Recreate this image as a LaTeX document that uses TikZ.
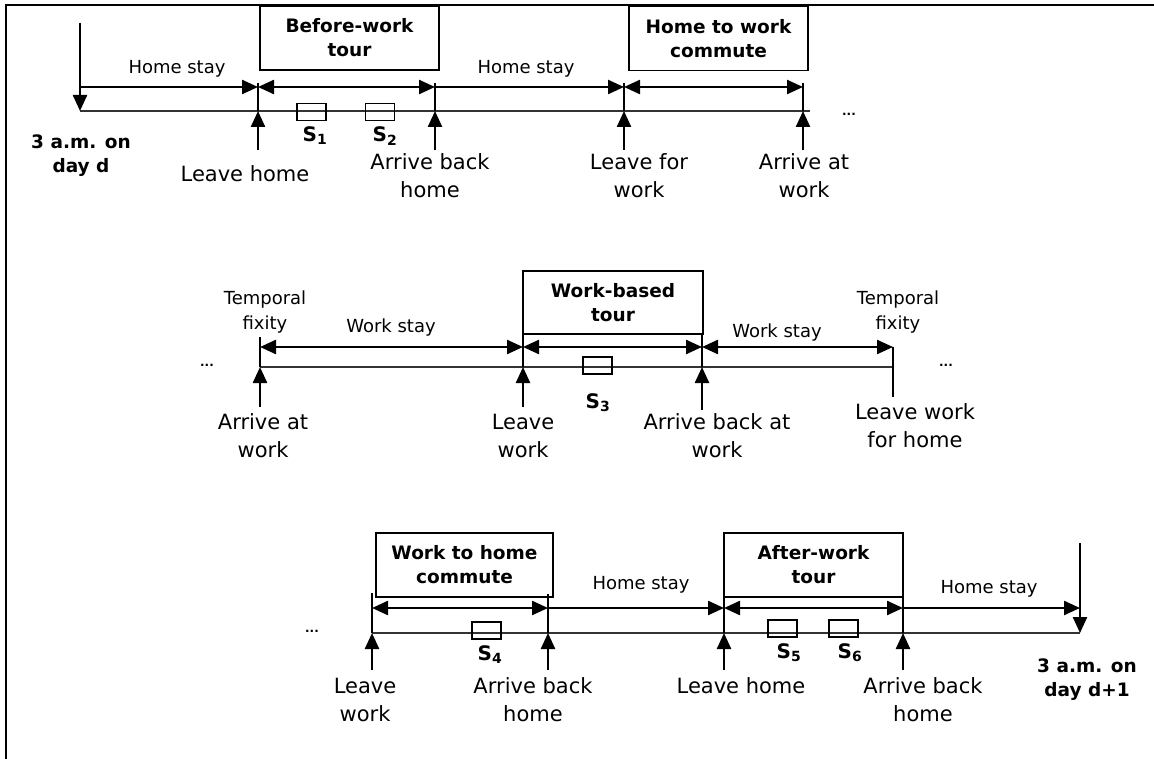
\documentclass[tikz,border=0pt]{standalone}
\usepackage{fontspec}
\setmainfont{DejaVu Sans}
\usepackage{tikz}
\usetikzlibrary{arrows.meta}
\newcommand{\onearrow}{-{Triangle[length=16pt,width=14pt]}}
\newcommand{\twoarrow}{{Triangle[length=16pt,width=14pt]}-{Triangle[length=16pt,width=14pt]}}

\begin{document}
\begin{tikzpicture}[x=1pt,y=-1pt,
		big/.style={font=\fontsize{21}{28}\selectfont,align=center},
		small/.style={font=\fontsize{18}{25}\selectfont,align=center},
		title/.style={font=\bfseries\fontsize{18.5}{24}\selectfont,align=center},
		tourbox/.style={draw,line width=1.2pt,inner sep=0pt,minimum width=179pt,minimum height=64pt},
		stopbox/.style={draw,line width=1.2pt,inner sep=0pt,minimum width=29pt,minimum height=17pt},
		stoplab/.style={font=\bfseries\fontsize{20}{24}\selectfont},
		timeline/.style={line width=1.6pt,black!80},
		span/.style={line width=2.4pt},
		tick/.style={line width=2.4pt},
		dots/.style={font=\bfseries\fontsize{12}{14}\selectfont}]
	\useasboundingbox (0,0) rectangle (1154,759);
	\draw[line width=2pt] (6,759) -- (6,5) -- (1154,5);
	% first row: day d
	\coordinate (r1start) at (80,111);
	\coordinate (r1end) at (810,111);
	\coordinate (r1top) at (80,23);
	\draw[timeline] (r1start) -- (r1end);
	\draw[tick,\onearrow] (r1top) -- (r1start);
	\node[title] (day1) at (81,156) {3 a.m. on\\day d};
	\node[tourbox,title] (bwt) at (349.5,38) {Before-work\\tour};
	\node[tourbox,title] (hwc) at (718.5,38.5) {Home to work\\commute};
	\coordinate (h1) at (80,87);
	\coordinate (h2) at (258,87);
	\coordinate (h3) at (435,87);
	\coordinate (h4) at (624,87);
	\coordinate (h5) at (803,87);
	\draw[span,\onearrow] (h1) -- (h2);
	\draw[span,\twoarrow] (h2) -- (h3);
	\draw[span,\onearrow] (h3) -- (h4);
	\draw[span,\twoarrow] (h4) -- (h5);
	\node[small] (hs1) at (177,69) {Home stay};
	\node[small] (hs2) at (526,69) {Home stay};
	\draw[tick] (258,83) -- (258,111);
	\draw[tick] (435,83) -- (435,111);
	\draw[tick] (624,83) -- (624,111);
	\draw[tick] (803,83) -- (803,111);
	\draw[tick,\onearrow] (258,150) -- (258,111);
	\draw[tick,\onearrow] (435,150) -- (435,111);
	\draw[tick,\onearrow] (624,150) -- (624,111);
	\draw[tick,\onearrow] (803,150) -- (803,111);
	\node[stopbox] (s1) at (311.5,112) {};
	\node[stopbox] (s2) at (380,112) {};
	\node[stoplab] (s1lab) at (315,136) {S\textsubscript{1}};
	\node[stoplab] (s2lab) at (385,136) {S\textsubscript{2}};
	\node[dots] (dots1) at (849,114) {...};
	\node[big] (lh1) at (245,174) {Leave home};
	\node[big] (abh1) at (430,176) {Arrive back\\home};
	\node[big] (lfw) at (639,176) {Leave for\\work};
	\node[big] (aaw1) at (804,176) {Arrive at\\work};
	% second row: at work
	\coordinate (r2start) at (260,367);
	\coordinate (r2end) at (893,367);
	\draw[timeline] (r2start) -- (r2end);
	\node[tourbox,title,minimum width=180pt,minimum height=63pt] (wbt) at (613,302.5) {Work-based\\tour};
	\coordinate (w1) at (260,347);
	\coordinate (w2) at (523,347);
	\coordinate (w3) at (702,347);
	\coordinate (w4) at (893,347);
	\draw[span,\twoarrow] (w1) -- (w2);
	\draw[span,\twoarrow] (w2) -- (w3);
	\draw[span,\twoarrow] (w3) -- (w4);
	\node[small] (ws1) at (391,328) {Work stay};
	\node[small] (ws2) at (777,333) {Work stay};
	\node[small] (tf1) at (265,312) {Temporal\\fixity};
	\node[small] (tf2) at (898,312) {Temporal\\fixity};
	\draw[tick] (260,337) -- (260,367);
	\draw[tick] (523,334) -- (523,367);
	\draw[tick] (702,334) -- (702,367);
	\draw[tick] (893,347) -- (893,397);
	\draw[tick,\onearrow] (260,407) -- (260,367);
	\draw[tick,\onearrow] (523,407) -- (523,367);
	\draw[tick,\onearrow] (702,410) -- (702,367);
	\node[stopbox] (s3) at (597.5,365.5) {};
	\node[stoplab] (s3lab) at (598,403) {S\textsubscript{3}};
	\node[dots] (dots2) at (207,365) {...};
	\node[dots] (dots3) at (946,365) {...};
	\node[big] (aaw2) at (263,436) {Arrive at\\work};
	\node[big] (lw1) at (523,436) {Leave\\work};
	\node[big] (abw) at (717,436) {Arrive back at\\work};
	\node[big] (lwh) at (915,426) {Leave work\\for home};
	% third row: day d+1
	\coordinate (r3start) at (372,633);
	\coordinate (r3end) at (1080,633);
	\coordinate (r3top) at (1080,543);
	\draw[timeline] (r3start) -- (r3end);
	\draw[tick,\onearrow] (r3top) -- (r3end);
	\node[title] (day2) at (1087,680) {3 a.m. on\\day d+1};
	\node[tourbox,title,minimum width=177pt] (whc) at (464.5,565) {Work to home\\commute};
	\node[tourbox,title] (awt) at (813.5,565) {After-work\\tour};
	\coordinate (c1) at (372,608);
	\coordinate (c2) at (548,608);
	\coordinate (c3) at (724,608);
	\coordinate (c4) at (903,608);
	\coordinate (c5) at (1080,608);
	\draw[span,\twoarrow] (c1) -- (c2);
	\draw[span,\onearrow] (c2) -- (c3);
	\draw[span,\twoarrow] (c3) -- (c4);
	\draw[span,\onearrow] (c4) -- (c5);
	\node[small] (hs3) at (641,585) {Home stay};
	\node[small] (hs4) at (989,589) {Home stay};
	\draw[tick] (372,593) -- (372,633);
	\draw[tick] (548,594) -- (548,633);
	\draw[tick] (724,597) -- (724,633);
	\draw[tick] (903,597) -- (903,633);
	\draw[tick,\onearrow] (372,670) -- (372,633);
	\draw[tick,\onearrow] (548,670) -- (548,633);
	\draw[tick,\onearrow] (724,670) -- (724,633);
	\draw[tick,\onearrow] (903,670) -- (903,633);
	\node[stopbox] (s4) at (486.5,630.5) {};
	\node[stopbox] (s5) at (782.5,628.5) {};
	\node[stopbox] (s6) at (843.5,628.5) {};
	\node[stoplab] (s4lab) at (490,655) {S\textsubscript{4}};
	\node[stoplab] (s5lab) at (789,653) {S\textsubscript{5}};
	\node[stoplab] (s6lab) at (850,653) {S\textsubscript{6}};
	\node[dots] (dots4) at (312,631) {...};
	\node[big] (lw2) at (365,700) {Leave\\work};
	\node[big] (abh2) at (533,700) {Arrive back\\home};
	\node[big] (lh2) at (741,686) {Leave home};
	\node[big] (abh3) at (923,700) {Arrive back\\home};
\end{tikzpicture}
\end{document}
